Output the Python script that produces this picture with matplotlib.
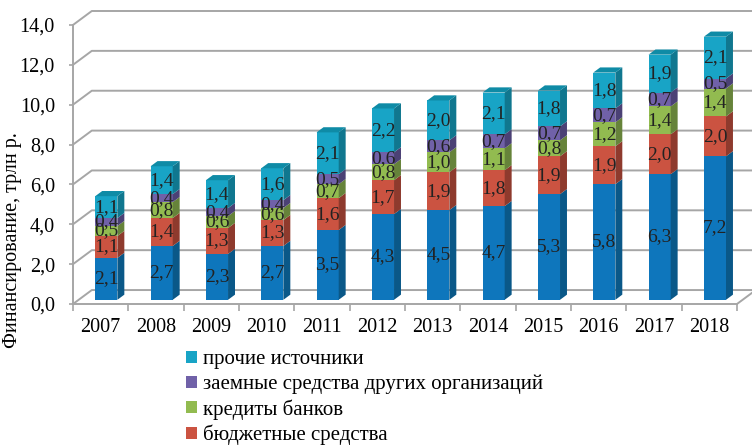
import matplotlib.pyplot as plt
from matplotlib.patches import Polygon, Patch

years = ['2007', '2008', '2009', '2010', '2011', '2012',
         '2013', '2014', '2015', '2016', '2017', '2018']
own = [2.1, 2.7, 2.3, 2.7, 3.5, 4.3, 4.5, 4.7, 5.3, 5.8, 6.3, 7.2]
budget = [1.1, 1.4, 1.3, 1.3, 1.6, 1.7, 1.9, 1.8, 1.9, 1.9, 2.0, 2.0]
bank_credit = [0.5, 0.8, 0.6, 0.6, 0.7, 0.8, 1.0, 1.1, 0.8, 1.2, 1.4, 1.4]
borrowed = [0.4, 0.4, 0.4, 0.4, 0.5, 0.6, 0.6, 0.7, 0.7, 0.7, 0.7, 0.5]
other = [1.1, 1.4, 1.4, 1.6, 2.1, 2.2, 2.0, 2.1, 1.8, 1.8, 1.9, 2.1]

series = [own, budget, bank_credit, borrowed, other]
names = ['собственные средства', 'бюджетные средства', 'кредиты банков',
         'заемные средства других организаций', 'прочие источники']
front_colors = ['#0E76BC', '#CB5341', '#92BB50', '#7061A8', '#18A4C6']
side_colors = ['#0A5888', '#8E3A2D', '#66833A', '#4B4175', '#10778F']
top_color = '#0F8BA6'

plt.rcParams['font.family'] = ['Liberation Serif', 'DejaVu Serif']

# 3D depth of the chart walls (category units, value units)
DX, DY = 0.34, 0.70
bar_w = 0.40
bar_off = 0.3      # front face of bars sits this far into the depth
bar_depth = 0.37   # depth of bars as fraction of wall depth

fig = plt.figure(figsize=(7.52, 4.45), dpi=100)
ax = fig.add_axes([73 / 752, (445 - 304) / 445, (752 - 73) / 752, 293 / 445])
ax.set_xlim(0, 679 / 55.33)
ax.set_ylim(0, 14.7)

grid_c = '#A6A6A6'
n = len(years)
# back wall gridlines with diagonal into depth
for v in range(0, 15, 2):
    ax.plot([0, DX, n + DX], [v, v + DY, v + DY], color=grid_c, lw=1.4,
            clip_on=False, zorder=1)
# floor right edge
ax.plot([n, n + DX], [0, DY], color=grid_c, lw=1.4, clip_on=False, zorder=1)

sdx, sdy = bar_depth * DX, bar_depth * DY
for i in range(n):
    xc = i + 0.5 + bar_off * DX
    base = bar_off * DY
    for k, s in enumerate(series):
        h = s[i]
        ax.bar(xc, h, bottom=base, width=bar_w, color=front_colors[k],
               linewidth=0, zorder=3)
        xr = xc + bar_w / 2
        ax.add_patch(Polygon([(xr, base), (xr + sdx, base + sdy),
                              (xr + sdx, base + h + sdy), (xr, base + h)],
                             closed=True, facecolor=side_colors[k],
                             edgecolor='none', zorder=3))
        ax.text(xc, base + h / 2, f'{h:.1f}'.replace('.', ','), ha='center',
                va='center', fontsize=14, color='#222222', zorder=5)
        base += h
    xl = xc - bar_w / 2
    ax.add_patch(Polygon([(xl, base), (xl + bar_w, base),
                          (xl + bar_w + sdx, base + sdy), (xl + sdx, base + sdy)],
                         closed=True, facecolor=top_color, edgecolor='none',
                         zorder=3))

for sp in ['top', 'right']:
    ax.spines[sp].set_visible(False)
ax.spines['left'].set_bounds(0, 14)
ax.spines['bottom'].set_bounds(0, n)
for sp in ['left', 'bottom']:
    ax.spines[sp].set_color(grid_c)
    ax.spines[sp].set_linewidth(1.4)

ax.set_yticks(range(0, 15, 2))
ax.set_yticklabels([f'{v:.1f}'.replace('.', ',') for v in range(0, 15, 2)],
                   fontsize=14.5)
ax.tick_params(axis='y', length=3, width=1.2, color=grid_c, pad=10)

ax.set_xticks(range(n + 1))
ax.set_xticklabels([])
ax.tick_params(axis='x', which='major', length=5, width=1.2, color=grid_c)
ax.set_xticks([i + 0.5 for i in range(n)], minor=True)
ax.set_xticklabels(years, minor=True, fontsize=14.5)
ax.tick_params(axis='x', which='minor', length=0, pad=10)

fig.text(0.017, (445 - 240) / 445, 'Финансирование, трлн р.', rotation=90,
         ha='center', va='center', fontsize=14.5)

handles = [Patch(facecolor=front_colors[k], edgecolor='none') for k in [4, 3, 2, 1]]
labels = [names[k] for k in [4, 3, 2, 1]]
fig.legend(handles, labels, loc='upper left', bbox_to_anchor=(178 / 752, 1 - 342 / 445),
           frameon=False, fontsize=15, handlelength=0.5, handleheight=0.5,
           handletextpad=0.3, labelspacing=0.25, borderaxespad=0)

fig.savefig('out.png', dpi=100)
